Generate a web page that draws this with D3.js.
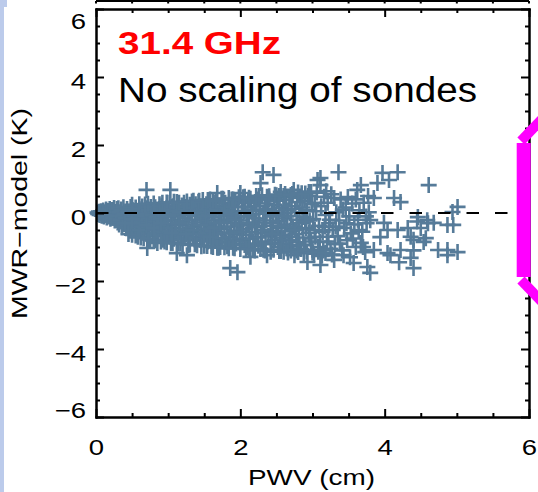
<!DOCTYPE html>
<html>
<head>
<meta charset="utf-8">
<script src="https://cdn.jsdelivr.net/npm/d3@7"></script>
<style>
html, body { margin: 0; padding: 0; background: #fff; }
svg { display: block; }
</style>
</head>
<body>
<div id="chart"></div>
<script>
// axis ticks
const pwvTicks = [0, 2, 4, 6];
const pwvMinor = [0.5, 1, 1.5, 2.5, 3, 3.5, 4.5, 5, 5.5];
const dTbTicks = [-6, -4, -2, 0, 2, 4, 6];
const dTbMinor = [-5.5, -5, -4.5, -3.5, -3, -2.5, -1.5, -1, -0.5, 0.5, 1, 1.5, 2.5, 3, 3.5, 4.5, 5, 5.5];

// [PWV (cm), MWR - model (K)]
const cloudDry = [[0.02,0.01],[0.03,-0.03],[0.04,0.04],[0.05,-0.06],[0.06,0.00],[0.07,0.05],[0.08,-0.08],[0.09,-0.02],[0.10,0.07],[0.11,-0.10],[0.12,0.02],[0.13,-0.06],[0.14,0.10],[0.15,-0.13],[0.16,-0.03],[0.17,0.06],[0.18,-0.10],[0.19,0.12],[0.20,-0.17],[0.21,0.00],[0.22,0.09],[0.23,-0.14],[0.24,-0.05],[0.25,0.15],[0.26,-0.22],[0.27,0.03],[0.28,-0.18],[0.29,0.12],[0.30,-0.08],[0.30,-0.28]];

const cloudLow = [[0.31,0.14],[0.32,-0.34],[0.33,0.02],[0.34,-0.2],[0.35,0.1],[0.36,-0.4],[0.37,-0.08],[0.38,0.17],[0.39,-0.28],[0.40,-0.02],[0.41,-0.15],[0.42,-0.45],[0.43,0.12],[0.44,-0.36],[0.45,0.04],[0.46,-0.24],[0.47,-0.52],[0.48,0.18],[0.49,-0.1],[0.50,-0.33],[0.51,0.08],[0.52,-0.5],[0.53,-0.04],[0.54,-0.22],[0.55,0.16],[0.56,-0.58],[0.57,-0.14],[0.58,0.02],[0.59,-0.4],[0.60,0.12],[0.61,-0.3],[0.62,-0.06],[0.63,-0.55],[0.64,0.19],[0.65,-0.2],[0.66,0.06],[0.67,-0.45],[0.68,-0.1],[0.69,0.14],[0.70,-0.62],[0.70,0.68],[0.71,-0.28],[0.71,-1.03],[0.72,-0.02],[0.73,0.1],[0.74,-0.5],[0.75,-0.16],[0.76,0.18],[0.77,-0.38],[0.78,-0.05],[0.79,-0.6],[0.80,0.08],[0.81,-0.25],[0.82,0.17],[0.83,-0.48],[0.84,-0.12],[0.85,0.03],[0.85,-0.88],[0.86,-0.68],[0.87,-0.34],[0.88,0.12],[0.89,-0.18],[0.90,-0.55],[0.91,0.2],[0.92,-0.04],[0.93,-0.42],[0.93,-0.79],[0.94,-0.24],[0.95,0.09],[0.96,-0.65],[0.97,-0.1],[0.98,0.15],[0.99,-0.35],[1.00,-0.52]];

const cloudMid = [[1.01,0.12],[1.02,-0.7],[1.03,0.68],[1.04,-0.2],[1.05,0.2],[1.06,-0.45],[1.07,-0.02],[1.08,-0.76],[1.09,-0.32],[1.10,0.06],[1.11,-0.6],[1.12,-1.18],[1.13,0.16],[1.14,-0.1],[1.15,-0.52],[1.16,0.02],[1.17,-0.36],[1.18,-0.72],[1.19,0.22],[1.20,-0.24],[1.21,0.1],[1.22,-0.64],[1.23,-0.14],[1.24,-0.48],[1.25,0.18],[1.26,-1.24],[1.27,-0.05],[1.28,-0.34],[1.29,-0.78],[1.30,0.24],[1.31,-0.56],[1.32,0.04],[1.33,-0.2],[1.34,-0.7],[1.35,0.14],[1.36,-0.42],[1.37,-0.08],[1.38,0.26],[1.39,-0.8],[1.40,-0.28],[1.41,0.08],[1.42,-0.62],[1.43,-0.02],[1.44,-0.79],[1.45,0.2],[1.46,-0.5],[1.47,-0.15],[1.48,-0.75],[1.49,0.12],[1.50,-0.36],[1.51,0.0],[1.52,-0.58],[1.53,0.26],[1.54,-0.22],[1.55,-0.84],[1.56,-0.06],[1.57,-0.46],[1.58,0.16],[1.59,-0.68],[1.60,-0.3],[1.61,0.06],[1.62,-0.54],[1.63,0.3],[1.64,-0.12],[1.65,-0.8],[1.66,-0.4],[1.67,0.12],[1.68,0.59],[1.69,-0.62],[1.70,-0.2],[1.71,0.22],[1.72,-1.0],[1.73,-0.46],[1.74,-0.02],[1.75,-0.74],[1.76,0.16],[1.77,-0.26],[1.78,-0.58],[1.79,0.3],[1.80,-0.86],[1.81,-0.08],[1.82,-0.4],[1.83,0.08],[1.84,-0.7],[1.85,0.24],[1.86,-1.62],[1.87,-0.3],[1.88,-0.04],[1.89,-0.82],[1.90,0.18],[1.91,-0.52],[1.92,-0.14],[1.93,0.34],[1.94,-0.9],[1.95,-0.62],[1.96,-1.74],[1.97,0.06],[1.98,-0.36],[1.99,-0.76],[2.00,0.59]];

const cloudHigh = [[2.01,-0.22],[2.02,0.3],[2.03,-0.82],[2.04,-0.48],[2.05,0.04],[2.06,-0.94],[2.07,0.18],[2.08,-0.64],[2.09,-0.1],[2.10,-1.0],[2.11,0.36],[2.12,-0.36],[2.13,-0.76],[2.14,-1.29],[2.15,0.1],[2.16,-0.56],[2.17,-0.04],[2.18,-0.9],[2.19,0.3],[2.20,-0.28],[2.21,-0.7],[2.22,0.06],[2.23,-0.42],[2.24,0.4],[2.25,-0.96],[2.26,-0.16],[2.27,0.2],[2.28,0.88],[2.29,-0.6],[2.30,-0.84],[2.31,1.2],[2.32,-0.02],[2.33,-0.38],[2.34,0.28],[2.35,-0.92],[2.36,-0.22],[2.37,-1.24],[2.38,0.12],[2.39,-0.68],[2.40,0.4],[2.41,-0.1],[2.42,-0.52],[2.43,-0.88],[2.44,0.06],[2.45,-0.3],[2.46,1.12],[2.47,0.24],[2.48,-0.8],[2.49,-0.04],[2.50,-0.58],[2.51,0.36],[2.52,-1.0],[2.53,-0.24],[2.54,0.14],[2.55,-0.72],[2.56,0.62],[2.57,-0.44],[2.58,0.0],[2.59,-0.9],[2.60,0.22],[2.61,-0.16],[2.62,-0.64],[2.63,0.38],[2.64,-1.04],[2.65,-0.34],[2.66,0.08],[2.67,-0.8],[2.68,0.46],[2.69,-0.52],[2.70,-0.08],[2.71,0.2],[2.72,-0.96],[2.73,-0.4],[2.74,0.68],[2.75,-1.24],[2.76,0.12],[2.77,-0.62],[2.78,-0.2],[2.79,0.32],[2.80,-0.86],[2.81,-0.48],[2.82,0.02],[2.83,0.44],[2.84,-1.06],[2.85,-0.3],[2.86,0.16],[2.87,-0.72],[2.88,-0.12],[2.89,0.36],[2.90,-0.94],[2.91,-0.44],[2.92,0.08],[2.93,-1.44],[2.94,0.5],[2.95,-0.58],[2.96,-0.22],[2.97,0.59],[2.98,-0.84],[2.99,0.26],[3.00,-1.08]];

const cloudWet = [[3.01,-0.18],[3.03,0.3],[3.04,-0.7],[3.05,0.05],[3.07,0.97],[3.08,-1.0],[3.09,-0.38],[3.11,1.03],[3.11,0.82],[3.11,-1.53],[3.12,0.2],[3.14,-0.56],[3.15,-1.1],[3.16,0.48],[3.18,-0.06],[3.20,-0.84],[3.21,0.3],[3.23,-0.3],[3.25,-1.05],[3.26,0.55],[3.28,-0.5],[3.30,0.44],[3.30,-1.38],[3.31,-0.92],[3.33,0.02],[3.35,-0.68],[3.36,1.2],[3.37,-0.22],[3.39,0.4],[3.41,-1.1],[3.43,-1.24],[3.44,-0.44],[3.46,0.16],[3.48,-0.8],[3.49,0.47],[3.51,-0.1],[3.53,-0.6],[3.55,0.28],[3.57,-1.47],[3.58,-0.34],[3.60,-1.0],[3.62,0.68],[3.63,-0.2],[3.65,0.08],[3.67,0.82],[3.67,-0.88],[3.69,-0.55],[3.71,0.3],[3.73,-1.15],[3.75,-0.3],[3.76,-1.59],[3.78,0.02],[3.80,-0.21],[3.80,-1.76]];

// extra soundings along the cloud edges and in its core
const cloudEdge = [[0.45,-0.62],[0.55,-0.66],[0.62,-0.72],[0.68,0.25],[0.75,-0.78],[0.82,-0.8],[0.88,0.26],[0.95,-0.84],[1.02,0.3],[1.06,-0.88],[1.12,0.32],[1.17,-0.9],[1.22,0.3],[1.28,-0.94],[1.33,0.34],[1.37,-0.92],[1.43,0.36],[1.50,-0.96],[1.55,0.38],[1.60,-0.98],[1.66,0.36],[1.70,-1.02],[1.76,0.42],[1.82,-0.98],[1.88,0.4],[1.92,-1.04],[2.04,0.46],[2.08,-1.06],[2.14,0.42],[2.20,-1.1],[2.26,0.5],[2.32,-1.08],[2.37,0.48],[2.42,-1.14],[2.50,0.52],[2.56,-1.12],[2.60,0.5],[2.66,-1.16],[2.72,0.56],[2.78,-1.1],[2.85,0.58],[2.88,-1.18],[2.95,0.62],[3.02,-1.2],[3.06,0.6],[3.13,-1.26],[3.19,0.64],[3.24,-0.2],[3.27,-1.22],[3.32,-0.4],[3.38,-0.9],[3.42,0.1],[3.47,-0.3],[3.52,-1.3],[3.56,-0.75],[3.60,0.4],[3.64,-0.5],[3.70,-1.0],[3.74,-0.1],[3.77,0.5],[1.52,-0.1],[1.58,-0.7],[1.64,-0.45],[1.72,-0.3],[1.78,0.02],[1.86,-0.6],[1.94,-0.2],[2.02,-0.55],[2.10,-0.3],[2.18,-0.15],[2.24,-0.72],[2.30,-0.5],[2.36,0.0],[2.44,-0.62],[2.52,-0.38],[2.58,-0.78],[2.64,-0.1],[2.70,-0.7],[2.76,-0.5],[2.82,-0.95],[2.90,-0.25],[2.96,-0.75],[3.03,-0.5],[3.10,-0.85],[3.17,-0.4],[3.22,-0.7]];

const cloudOuter = [[0.50,0.24],[0.60,0.26],[0.72,0.27],[0.80,0.28],[0.92,0.3],[0.98,0.31],[1.08,0.33],[1.15,0.3],[1.26,0.34],[1.35,0.36],[1.42,0.33],[1.48,0.38],[1.58,0.4],[1.62,0.36],[1.74,0.42],[1.84,0.44],[1.90,0.4],[1.98,0.46],[2.06,0.48],[2.12,0.45],[2.22,0.5],[2.30,0.52],[2.40,0.49],[2.48,0.54],[2.54,0.5],[2.62,0.56],[2.70,0.53],[2.80,0.6],[2.90,0.57],[2.98,0.62],[0.50,-0.64],[0.58,-0.7],[0.66,-0.74],[0.72,-0.77],[0.80,-0.82],[0.90,-0.84],[0.98,-0.86],[1.04,-0.88],[1.14,-0.9],[1.20,-0.92],[1.30,-0.93],[1.40,-0.95],[1.46,-0.98],[1.54,-0.97],[1.62,-1.0],[1.68,-1.02],[1.78,-1.01],[1.84,-1.04],[1.90,-1.02],[2.00,-1.06],[2.12,-1.05],[2.18,-1.08],[2.28,-1.06],[2.34,-1.1],[2.46,-1.08],[2.54,-1.12],[2.60,-1.14],[2.70,-1.1],[2.80,-1.15],[2.92,-1.13],[3.00,-1.16],[3.08,-1.14],[3.18,-1.18],[0.40,-0.3],[0.50,-0.18],[0.60,-0.5],[0.70,-0.36],[0.80,-0.45],[0.90,-0.3],[1.00,-0.1],[1.05,-0.6],[1.15,-0.3],[1.25,-0.62],[1.35,-0.5],[1.45,-0.35]];

const wetTail = [[3.85,0.44],[3.85,-1.09],[3.90,0.88],[3.94,-0.71],[3.97,1.18],[3.99,-0.29],[4.04,-0.5],[4.04,-1.18],[4.06,0.97],[4.08,-1.24],[4.13,0.44],[4.18,1.2],[4.18,-0.5],[4.20,-1.45],[4.22,0.32],[4.22,-1.09],[4.32,-0.44],[4.36,-0.7],[4.36,-1.32],[4.40,-0.79],[4.40,-1.1],[4.40,-1.62],[4.45,-0.25],[4.46,-0.12],[4.50,-0.44],[4.54,-0.85],[4.57,-0.74],[4.59,-0.21],[4.60,-0.3],[4.61,0.82],[4.68,-0.29],[4.74,-1.09],[4.87,-0.35],[4.87,-1.09],[4.87,-1.24],[4.94,0.03],[4.95,-0.35],[5.01,0.18],[5.01,-1.15]];

const points = [].concat(cloudDry, cloudLow, cloudMid, cloudHigh, cloudWet, cloudEdge, cloudOuter, wetTail);

const width = 538, height = 492;
const font = "'Liberation Sans', Arial, sans-serif";

const svg = d3.select("#chart").append("svg")
    .attr("width", width)
    .attr("height", height)
    .attr("font-family", font);

const x = d3.scaleLinear().domain([0, 6]).range([96, 529]);
const y = d3.scaleLinear().domain([-6, 6]).range([417, 9]);

// slide background strip on the left
svg.append("rect").attr("x", 0).attr("y", 0).attr("width", 4).attr("height", height).attr("fill", "#bccbeb");
svg.append("rect").attr("x", 0).attr("y", 0).attr("width", 7).attr("height", 7).attr("fill", "#bccbeb");

// bottom edge of the panel above
svg.append("line")
    .attr("x1", x(0)).attr("x2", x(6)).attr("y1", 1).attr("y2", 1)
    .attr("stroke", "#000").attr("stroke-width", 2);
svg.selectAll(".topstub")
    .data(pwvTicks.concat(pwvMinor))
    .enter().append("line")
    .attr("x1", d => x(d)).attr("x2", d => x(d))
    .attr("y1", 1).attr("y2", 3.5)
    .attr("stroke", "#000").attr("stroke-width", 2);

// scatter
const plot = svg.append("g");
plot.selectAll("path")
    .data(points)
    .enter().append("path")
    .attr("transform", d => `translate(${x(d[0])},${y(d[1])})`)
    .attr("d", "M-8,0H8M0,-8V8")
    .attr("stroke", "#567b99")
    .attr("stroke-width", 2.6)
    .attr("fill", "none");

// zero line
svg.append("line")
    .attr("x1", x(0)).attr("x2", x(6))
    .attr("y1", y(0)).attr("y2", y(0))
    .attr("stroke", "#000")
    .attr("stroke-width", 2)
    .attr("stroke-dasharray", "12.5,16");

function styleAxis(g) {
    g.attr("font-family", null).attr("font-size", null);
    g.selectAll(".domain").attr("stroke", "#000").attr("stroke-width", 2).attr("stroke-linecap", "square");
    g.selectAll(".tick line").attr("stroke", "#000").attr("stroke-width", 2);
}

function addAxis(makeAxis, scale, pos, ticks, minor, labels) {
    svg.append("g").attr("transform", pos)
        .call(makeAxis(scale).tickValues(minor).tickSize(-4).tickSizeOuter(0).tickFormat(""))
        .call(styleAxis);
    return svg.append("g").attr("transform", pos)
        .call(makeAxis(scale).tickValues(ticks).tickSize(-8).tickSizeOuter(0)
            .tickFormat(labels ? d3.format("d") : ""))
        .call(styleAxis);
}

const gx = addAxis(d3.axisBottom, x, `translate(0,${y(-6)})`, pwvTicks, pwvMinor, true);
gx.selectAll("text")
    .attr("y", 38).attr("dy", null)
    .attr("font-size", 22).attr("fill", "#000")
    .attr("transform", "scale(1.25,1)");

const gy = addAxis(d3.axisLeft, y, `translate(${x(0)},0)`, dTbTicks, dTbMinor, true);
gy.selectAll("text")
    .attr("x", -8)
    .attr("dy", d => d === 6 ? 19.5 : d === -6 ? 0.5 : 11)
    .attr("font-size", 22).attr("fill", "#000")
    .attr("transform", "scale(1.25,1)");

addAxis(d3.axisTop, x, `translate(0,${y(6)})`, pwvTicks, pwvMinor, false);
addAxis(d3.axisRight, y, `translate(${x(6)},0)`, dTbTicks, dTbMinor, false);

// axis titles
svg.append("text")
    .attr("x", 311.5).attr("y", 485)
    .attr("text-anchor", "middle")
    .attr("font-size", 22)
    .attr("textLength", 127).attr("lengthAdjust", "spacingAndGlyphs")
    .text("PWV (cm)");

svg.append("text")
    .attr("transform", "translate(27,213.5) rotate(-90)")
    .attr("text-anchor", "middle")
    .attr("font-size", 22)
    .attr("textLength", 211).attr("lengthAdjust", "spacingAndGlyphs")
    .text("MWR\u2212model (K)");

// annotations
svg.append("text")
    .attr("x", 118).attr("y", 54)
    .attr("font-size", 32).attr("font-weight", "bold")
    .attr("fill", "#ff0000")
    .attr("textLength", 163).attr("lengthAdjust", "spacingAndGlyphs")
    .text("31.4 GHz");

svg.append("text")
    .attr("x", 118).attr("y", 102)
    .attr("font-size", 35)
    .attr("fill", "#000")
    .attr("textLength", 359).attr("lengthAdjust", "spacingAndGlyphs")
    .text("No scaling of sondes");

// magenta bracket from the neighbouring panel
const magenta = "#ff00ff";
svg.append("rect").attr("x", 516.7).attr("y", 143).attr("width", 14).attr("height", 134).attr("fill", magenta);
svg.append("line").attr("x1", 521).attr("y1", 141).attr("x2", 545).attr("y2", 116)
    .attr("stroke", magenta).attr("stroke-width", 10);
svg.append("line").attr("x1", 521).attr("y1", 280).attr("x2", 545).attr("y2", 305)
    .attr("stroke", magenta).attr("stroke-width", 10);
</script>
</body>
</html>
